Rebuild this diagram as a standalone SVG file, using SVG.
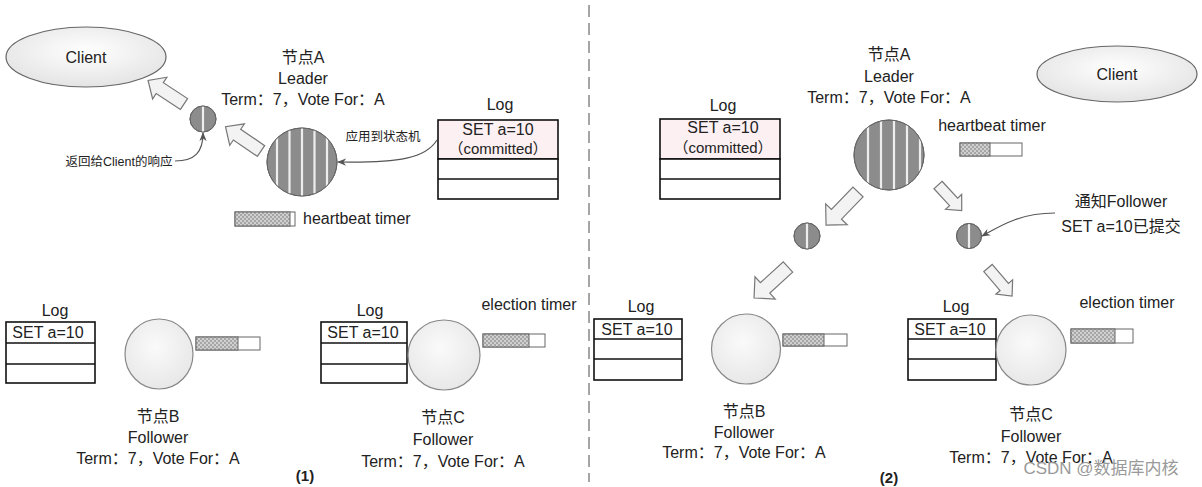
<svg xmlns="http://www.w3.org/2000/svg" width="1202" height="487" viewBox="0 0 1202 487">
<defs>
<style>
text{font-family:"Liberation Sans","Noto Sans CJK SC",sans-serif;fill:#222;}
.t15{font-size:16px;text-anchor:middle}
.tc{font-size:15px;text-anchor:middle}
.t16{font-size:16px;text-anchor:middle}
.ts{font-size:16px;text-anchor:start}
.t12{font-size:12.5px;text-anchor:middle}
.num{font-size:15px;font-weight:bold;text-anchor:middle}
.log{fill:#fff;stroke:#111;stroke-width:1.6}
.logc{fill:#fcf0f2;stroke:#111;stroke-width:1.6}
.row{stroke:#111;stroke-width:1.6}
.client{fill:url(#gClient);stroke:#666;stroke-width:1.2}
.lead{fill:#8c8c8c;stroke:#666;stroke-width:1}
.stripe{stroke:#eeeeee;stroke-width:2.2}
.fol{fill:url(#gFol);stroke:#888;stroke-width:1.2}
.bar{fill:#fff;stroke:#666;stroke-width:1}
.hatch{fill:url(#pHatch);stroke:#666;stroke-width:1}
.blk{fill:#f3f3f3;stroke:#777;stroke-width:1.2;stroke-linejoin:miter}
.cur{fill:none;stroke:#555;stroke-width:1.2;marker-end:url(#mk)}
.div{stroke:#888;stroke-width:1.5;stroke-dasharray:12 6}
.wm{font-size:17px;fill:#9a9a9a;text-anchor:middle}
</style>
<radialGradient id="gClient" cx="0.5" cy="0.4" r="0.6">
<stop offset="0" stop-color="#ffffff"/><stop offset="1" stop-color="#e4e4e4"/>
</radialGradient>
<radialGradient id="gFol" cx="0.45" cy="0.4" r="0.6">
<stop offset="0" stop-color="#fafafa"/><stop offset="1" stop-color="#e8e8e8"/>
</radialGradient>
<pattern id="pHatch" width="4" height="4" patternUnits="userSpaceOnUse">
<rect width="4" height="4" fill="#a6a6a6"/>
<rect width="2" height="2" fill="#d0d0d0"/>
<rect x="2" y="2" width="2" height="2" fill="#d0d0d0"/>
</pattern>
<marker id="mk" viewBox="0 0 10 10" refX="9" refY="5" markerWidth="9" markerHeight="9" markerUnits="userSpaceOnUse" orient="auto">
<path d="M0,1 L10,5 L0,9 L3,5 Z" fill="#555"/>
</marker>
<clipPath id="cA1"><ellipse cx="302" cy="162" rx="35" ry="34"/></clipPath>
<clipPath id="cA2"><ellipse cx="889" cy="155" rx="35" ry="35"/></clipPath>
<clipPath id="cS1"><circle cx="203" cy="119" r="13"/></clipPath>
<clipPath id="cS2"><circle cx="807" cy="236" r="13"/></clipPath>
<clipPath id="cS3"><circle cx="969" cy="236" r="12.5"/></clipPath>
</defs>
<rect width="1202" height="487" fill="#fff"/>

<line class="div" x1="589" y1="5" x2="589" y2="482"/>

<!-- Panel 1 -->
<g id="client1">
<ellipse class="client" cx="86" cy="57" rx="80" ry="30"/>
<text class="t16" x="86" y="63">Client</text>
</g>

<g id="nodeA1">
<text class="t15" x="303" y="63">节点A</text>
<text class="t15" x="303" y="84">Leader</text>
<text class="t15" x="303" y="105">Term：7，Vote For：A</text>
<ellipse class="lead" cx="302" cy="162" rx="35" ry="34"/>
<g clip-path="url(#cA1)">
<line class="stripe" x1="277" y1="120" x2="277" y2="200"/>
<line class="stripe" x1="289.5" y1="120" x2="289.5" y2="200"/>
<line class="stripe" x1="302" y1="120" x2="302" y2="200"/>
<line class="stripe" x1="314.5" y1="120" x2="314.5" y2="200"/>
<line class="stripe" x1="327" y1="120" x2="327" y2="200"/>
</g>
<ellipse cx="302" cy="162" rx="35" ry="34" fill="none" stroke="#666" stroke-width="1"/>
</g>

<g id="resp1">
<circle class="lead" cx="203" cy="119" r="13"/>
<line class="stripe" x1="203" y1="106" x2="203" y2="132" clip-path="url(#cS1)"/>
<circle cx="203" cy="119" r="13" fill="none" stroke="#666" stroke-width="1"/>
<text class="t12" x="119" y="166">返回给Client的响应</text>
</g>

<g id="logA1">
<text class="t15" x="500" y="110">Log</text>
<rect class="logc" x="438" y="120" width="120" height="39"/>
<rect class="log" x="438" y="159" width="120" height="40"/>
<line class="row" x1="438" y1="179" x2="558" y2="179"/>
<text class="t15" x="498" y="135">SET a=10</text>
<text class="tc" x="498" y="154">（committed）</text>
<text class="t12" x="383" y="141">应用到状态机</text>
</g>

<g id="timerA1">
<rect class="bar" x="235" y="212" width="60" height="14"/>
<rect class="hatch" x="235" y="212" width="55" height="14"/>
<text class="ts" x="303" y="224">heartbeat timer</text>
</g>

<g id="nodeB1">
<text class="t15" x="55" y="316">Log</text>
<rect class="log" x="6" y="322" width="89" height="61"/>
<line class="row" x1="6" y1="343" x2="95" y2="343"/>
<line class="row" x1="6" y1="364" x2="95" y2="364"/>
<text class="t15" x="48" y="338">SET a=10</text>
<ellipse class="fol" cx="159" cy="354" rx="34" ry="35"/>
<rect class="bar" x="196" y="337" width="64" height="13"/>
<rect class="hatch" x="196" y="337" width="42" height="13"/>
<text class="t15" x="158" y="422">节点B</text>
<text class="t15" x="158" y="443">Follower</text>
<text class="t15" x="158" y="464">Term：7，Vote For：A</text>
</g>

<g id="nodeC1">
<text class="t15" x="370" y="316">Log</text>
<rect class="log" x="321" y="322" width="86" height="61"/>
<line class="row" x1="321" y1="343" x2="407" y2="343"/>
<line class="row" x1="321" y1="364" x2="407" y2="364"/>
<text class="t15" x="363" y="338">SET a=10</text>
<ellipse class="fol" cx="444" cy="355" rx="36" ry="35"/>
<rect class="bar" x="483" y="334" width="62" height="13"/>
<rect class="hatch" x="483" y="334" width="46" height="13"/>
<text class="t15" x="529" y="310">election timer</text>
<text class="t15" x="443" y="423">节点C</text>
<text class="t15" x="443" y="445">Follower</text>
<text class="t15" x="443" y="467">Term：7，Vote For：A</text>
</g>

<text class="num" x="305" y="481">(1)</text>

<!-- Panel 2 -->
<g id="client2">
<ellipse class="client" cx="1117" cy="74" rx="80" ry="28"/>
<text class="t16" x="1117" y="80">Client</text>
</g>

<g id="nodeA2">
<text class="t15" x="889" y="60">节点A</text>
<text class="t15" x="889" y="82">Leader</text>
<text class="t15" x="889" y="103">Term：7，Vote For：A</text>
<ellipse class="lead" cx="889" cy="155" rx="35" ry="35"/>
<g clip-path="url(#cA2)">
<line class="stripe" x1="868" y1="115" x2="868" y2="195"/>
<line class="stripe" x1="881" y1="115" x2="881" y2="195"/>
<line class="stripe" x1="894" y1="115" x2="894" y2="195"/>
<line class="stripe" x1="907" y1="115" x2="907" y2="195"/>
<line class="stripe" x1="920" y1="115" x2="920" y2="195"/>
</g>
<ellipse cx="889" cy="155" rx="35" ry="35" fill="none" stroke="#666" stroke-width="1"/>
</g>

<g id="logA2">
<text class="t15" x="723" y="111">Log</text>
<rect class="logc" x="660" y="119" width="120" height="40"/>
<rect class="log" x="660" y="159" width="120" height="40"/>
<line class="row" x1="660" y1="179" x2="780" y2="179"/>
<text class="t15" x="723" y="133">SET a=10</text>
<text class="tc" x="723" y="153">（committed）</text>
</g>

<g id="timerA2">
<text class="t15" x="992" y="131">heartbeat timer</text>
<rect class="bar" x="960" y="143" width="62" height="13"/>
<rect class="hatch" x="960" y="143" width="30" height="13"/>
</g>

<g id="msgB2">
<circle class="lead" cx="807" cy="236" r="13"/>
<line class="stripe" x1="807" y1="222" x2="807" y2="250" clip-path="url(#cS2)"/>
<circle cx="807" cy="236" r="13" fill="none" stroke="#666" stroke-width="1"/>
</g>

<g id="msgC2">
<circle class="lead" cx="969" cy="236" r="12.5"/>
<line class="stripe" x1="969" y1="222" x2="969" y2="250" clip-path="url(#cS3)"/>
<circle cx="969" cy="236" r="12.5" fill="none" stroke="#666" stroke-width="1"/>
<text class="t15" x="1121" y="207">通知Follower</text>
<text class="t15" x="1121" y="232">SET a=10已提交</text>
</g>

<g id="nodeB2">
<text class="t15" x="641" y="312">Log</text>
<rect class="log" x="594" y="319" width="88" height="61"/>
<line class="row" x1="594" y1="339" x2="682" y2="339"/>
<line class="row" x1="594" y1="359" x2="682" y2="359"/>
<text class="t15" x="637" y="335">SET a=10</text>
<ellipse class="fol" cx="746" cy="349" rx="34.5" ry="35"/>
<rect class="bar" x="783" y="334" width="64" height="12"/>
<rect class="hatch" x="783" y="334" width="41" height="12"/>
<text class="t15" x="744" y="417">节点B</text>
<text class="t15" x="744" y="438">Follower</text>
<text class="t15" x="744" y="458">Term：7，Vote For：A</text>
</g>

<g id="nodeC2">
<text class="t15" x="956" y="312">Log</text>
<rect class="log" x="908" y="319" width="88" height="61"/>
<line class="row" x1="908" y1="339" x2="996" y2="339"/>
<line class="row" x1="908" y1="359" x2="996" y2="359"/>
<text class="t15" x="950" y="335">SET a=10</text>
<ellipse class="fol" cx="1031" cy="350" rx="35" ry="35"/>
<rect class="bar" x="1071" y="329" width="62" height="14"/>
<rect class="hatch" x="1071" y="329" width="44" height="14"/>
<text class="t15" x="1127" y="308">election timer</text>
<text class="t15" x="1031" y="420">节点C</text>
<text class="t15" x="1031" y="442">Follower</text>
<text class="t15" x="1031" y="463">Term：7，Vote For：A</text>
</g>

<text class="num" x="889" y="483">(2)</text>

<g id="connectors">
<path class="blk" transform="translate(184,104) rotate(-146.7)" d="M0,-6.5 H29 V-13 L43,0 L29,13 V6.5 H0 Z"/>
<path class="blk" transform="translate(261,151) rotate(-145.6)" d="M0,-6.5 H29 V-13 L43,0 L29,13 V6.5 H0 Z"/>
<path class="blk" transform="translate(858,192) rotate(134)" d="M0,-7 H31 V-15 L46,0 L31,15 V7 H0 Z"/>
<path class="blk" transform="translate(788,267) rotate(137.6)" d="M0,-7 H31 V-15 L46,0 L31,15 V7 H0 Z"/>
<path class="blk" transform="translate(938,185) rotate(47.3)" d="M0,-5.5 H23 V-11 L35,0 L23,11 V5.5 H0 Z"/>
<path class="blk" transform="translate(988,268) rotate(49.4)" d="M0,-5.5 H25 V-11 L37,0 L25,11 V5.5 H0 Z"/>
<path class="cur" d="M175,161 C195,161 203,152 203,133"/>
<path class="cur" d="M437,140 C426,158 400,163 338,162"/>
<path class="cur" d="M1055,213 C1020,213 1000,226 982,236"/>
</g>

<text class="wm" x="1101" y="474">CSDN @数据库内核</text>
</svg>
